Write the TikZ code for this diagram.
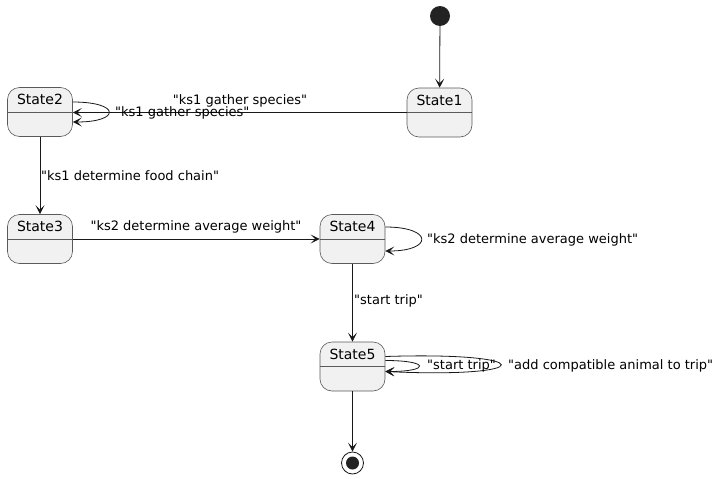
\documentclass[tikz,border=0pt]{standalone}
\usepackage{fontspec}
\setmainfont{DejaVu Sans}[Ligatures=TeXOff]
\usetikzlibrary{arrows.meta}
\definecolor{boxfill}{HTML}{F1F1F1}
\definecolor{boxline}{HTML}{5A5A5A}
\definecolor{ink}{HTML}{181818}
\definecolor{dot}{HTML}{222222}
\tikzset{
  statebox/.style={draw=boxline, line width=0.6pt, fill=boxfill, rounded corners=12pt,
    minimum width=65pt, minimum height=49pt, inner sep=0pt},
  statename/.style={font=\fontsize{14pt}{16pt}\selectfont, inner sep=0pt},
  lbl/.style={font=\fontsize{13pt}{15pt}\selectfont, inner sep=0pt, text=black},
  arr/.style={draw=ink, line width=0.8pt, -{Stealth[length=9pt,width=9pt,inset=4.5pt]}},
}
\begin{document}
\begin{tikzpicture}[x=1pt,y=-1pt]
\useasboundingbox (0,0) rectangle (723,479);
% states
\foreach \n/\x/\y/\t in {s1/439.5/112.5/State1, s2/40/112/State2, s3/40/239/State3, s4/352.5/239/State4, s5/352.5/366.5/State5}{
  \node[statebox] (\n) at (\x,\y) {};
  \draw[boxline, line width=0.6pt] ([yshift=-25pt]\n.north west) -- ([yshift=-25pt]\n.north east);
  \node[statename] (\n name) at ([yshift=-12.5pt]\n.north) {\t};
}
% start and end
\node[circle, fill=dot, minimum size=20pt, inner sep=0pt] (start) at (440,16) {};
\node[circle, draw=ink, line width=0.8pt, fill=white, minimum size=22pt, inner sep=0pt] (end) at (352.5,463) {};
\node[circle, fill=dot, minimum size=13pt, inner sep=0pt] (endin) at (end.center) {};
% transitions
\draw[arr] (start) -- (s1);
\draw[arr] (s1.west) -- (s1.west -| s2.east);
\node[lbl] (l1) at (240,101) {"ks1 gather species"};
\draw[arr] ([yshift=10pt]s2.east) .. controls +(48,0) and +(48,0) .. ([yshift=-10pt]s2.east);
\node[lbl, anchor=west] (l2) at (115,113) {"ks1 gather species"};
\draw[arr] (s2) -- (s3);
\node[lbl, anchor=west] (l3) at (41,176) {"ks1 determine food chain"};
\draw[arr] (s3) -- (s4);
\node[lbl] (l4) at (196,227) {"ks2 determine average weight"};
\draw[arr] ([yshift=12pt]s4.east) .. controls +(48,0) and +(48,0) .. ([yshift=-12pt]s4.east);
\node[lbl, anchor=west] (l5) at (427,240) {"ks2 determine average weight"};
\draw[arr] (s4) -- (s5);
\node[lbl, anchor=west] (l6) at (354,301) {"start trip"};
\draw[arr] ([yshift=10pt]s5.east) .. controls +(154,-5) and +(154,7) .. ([yshift=-5pt]s5.east);
\draw[arr] ([yshift=6pt]s5.east) .. controls +(45,0) and +(45,0) .. ([yshift=-5pt]s5.east);
\node[lbl, anchor=west] (l7) at (427,366) {"start trip"};
\node[lbl, anchor=west] (l8) at (508,366) {"add compatible animal to trip"};
\draw[arr] (s5) -- (end);
\end{tikzpicture}
\end{document}
